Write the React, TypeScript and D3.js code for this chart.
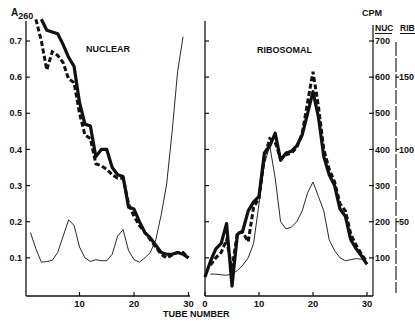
import * as d3 from "d3";

// Sucrose gradient profiles — nuclear vs ribosomal fractions.
const W = 415;
const H = 321;

// left panel (A260 scale)
const NUC_SOLID_START = 3;
const NUC_SOLID = [
  0.76, 0.73, 0.725, 0.72, 0.69, 0.655, 0.63, 0.53, 0.47, 0.465, 0.38, 0.4, 0.4,
  0.35, 0.33, 0.325, 0.24, 0.235, 0.2, 0.17, 0.155, 0.135, 0.115, 0.11, 0.11,
  0.115, 0.11, 0.1,
];
const NUC_DASH_START = 2;
const NUC_DASH = [
  0.76, 0.7, 0.62, 0.67, 0.66, 0.64, 0.595, 0.585, 0.5, 0.44, 0.43, 0.36, 0.355,
  0.345, 0.33, 0.32, 0.32, 0.25, 0.215, 0.19, 0.17, 0.15, 0.13, 0.11, 0.1, 0.108,
  0.115, 0.115, 0.1,
];
const NUC_THIN_START = 1;
const NUC_THIN = [
  0.17, 0.125, 0.088, 0.09, 0.093, 0.115, 0.16, 0.205, 0.19, 0.13, 0.1, 0.09,
  0.095, 0.092, 0.092, 0.11, 0.16, 0.178, 0.12, 0.095, 0.088, 0.1, 0.115, 0.15,
  0.22, 0.305, 0.45, 0.615, 0.712,
];

// right panel (NUC cpm scale)
const RIB_SOLID_START = 0;
const RIB_SOLID = [
  47, 90, 125, 140, 195, 22, 165, 175, 230, 255, 270, 390, 410, 445, 370, 390,
  395, 410, 440, 500, 560, 490, 380, 330, 300, 235, 215, 150, 125, 105, 82,
];
const RIB_DASH_START = 1;
const RIB_DASH = [
  80, 100, 115, 150, 70, 170, 170, 145, 240, 265, 380, 430, 420, 375, 385, 390,
  405, 445, 530, 615, 520, 400, 345, 310, 250, 230, 165, 135, 110, 88,
];
const RIB_THIN_START = 1;
const RIB_THIN = [
  55, 55, 53, 52, 55, 65, 80, 100, 140, 250, 360, 410, 320, 200, 180, 185, 200,
  230, 280, 310, 270, 230, 150, 120, 100, 92, 95, 98, 96, 88,
];

const A_TICKS = [0.1, 0.2, 0.3, 0.4, 0.5, 0.6, 0.7];
const NUC_TICKS = [100, 200, 300, 400, 500, 600, 700];
const RIB_TICKS = [50, 100, 150];
const X_TICKS_LEFT = [10, 20, 30];
const X_TICKS_RIGHT = [0, 10, 20, 30];

const FONT = "'Liberation Sans', Arial, sans-serif";
const INK = "#111";

const xL = d3.scaleLinear().domain([0, 30]).range([25, 188.5]);
const xR = d3.scaleLinear().domain([0, 30]).range([205, 367]);
const yA = d3.scaleLinear().domain([0, 0.7]).range([294, 41]);
const yN = d3.scaleLinear().domain([0, 700]).range([294, 41]);
const yR = d3.scaleLinear().domain([0, 175]).range([294, 41]);

const Y_TOP = yA(0.755);
const BASE = 296;

function path(vals: number[], start: number, x: d3.ScaleLinear<number, number>, y: d3.ScaleLinear<number, number>) {
  const line = d3
    .line<number>()
    .x((_, i) => x(start + i))
    .y((d) => y(d));
  return line(vals) || "";
}

export default function App() {
  const txt = { fontFamily: FONT, fontWeight: 700, fill: INK } as const;
  return (
    <svg
      width={W}
      height={H}
      style={{ position: "absolute", left: 0, top: 0, background: "#fff" }}
    >
      {/* left panel axes */}
      <line x1={26} x2={26} y1={Y_TOP} y2={BASE} stroke={INK} strokeWidth={1.3} />
      <line x1={26} x2={190} y1={BASE} y2={BASE} stroke={INK} strokeWidth={1.3} />
      {A_TICKS.map((t) => (
        <g key={t}>
          <line x1={26} x2={30} y1={yA(t)} y2={yA(t)} stroke={INK} strokeWidth={1.2} />
          <text x={22} y={yA(t) + 3.2} textAnchor="end" fontSize={9} {...txt}>
            {t.toFixed(1)}
          </text>
        </g>
      ))}
      {X_TICKS_LEFT.map((t) => (
        <g key={t}>
          <line x1={xL(t)} x2={xL(t)} y1={BASE} y2={BASE - 4} stroke={INK} strokeWidth={1.2} />
          <text x={xL(t)} y={BASE + 11} textAnchor="middle" fontSize={9.5} {...txt}>
            {t}
          </text>
        </g>
      ))}

      {/* right panel axes */}
      <line x1={205} x2={205} y1={Y_TOP} y2={BASE} stroke={INK} strokeWidth={1.3} />
      <line x1={205} x2={373} y1={BASE} y2={BASE} stroke={INK} strokeWidth={1.3} />
      {A_TICKS.map((t) => (
        <line key={t} x1={205} x2={209} y1={yA(t)} y2={yA(t)} stroke={INK} strokeWidth={1.2} />
      ))}
      {X_TICKS_RIGHT.map((t) => (
        <g key={t}>
          <line x1={xR(t)} x2={xR(t)} y1={BASE} y2={BASE - 4} stroke={INK} strokeWidth={1.2} />
          <text x={xR(t)} y={BASE + 11} textAnchor="middle" fontSize={9.5} {...txt}>
            {t}
          </text>
        </g>
      ))}

      {/* CPM axes */}
      <line x1={373} x2={373} y1={25} y2={BASE} stroke={INK} strokeWidth={1.2} />
      {NUC_TICKS.map((t) => (
        <g key={t}>
          <line x1={369} x2={374} y1={yN(t)} y2={yN(t)} stroke={INK} strokeWidth={1.2} />
          <text x={375} y={yN(t) + 3.2} fontSize={9} {...txt}>
            {t}
          </text>
        </g>
      ))}
      <line
        x1={396}
        x2={396}
        y1={42}
        y2={293}
        stroke={INK}
        strokeWidth={1.1}
        strokeDasharray="14,2"
      />
      {RIB_TICKS.map((t) => (
        <g key={t}>
          <line x1={396} x2={399} y1={yR(t)} y2={yR(t)} stroke={INK} strokeWidth={1.2} />
          <text x={399} y={yR(t) + 3.2} fontSize={9} {...txt}>
            {t}
          </text>
        </g>
      ))}

      {/* series: left */}
      <path d={path(NUC_THIN, NUC_THIN_START, xL, yA)} fill="none" stroke={INK} strokeWidth={0.9} />
      <path
        d={path(NUC_DASH, NUC_DASH_START, xL, yA)}
        fill="none"
        stroke={INK}
        strokeWidth={3}
        strokeDasharray="5,2.5"
      />
      <path
        d={path(NUC_SOLID, NUC_SOLID_START, xL, yA)}
        fill="none"
        stroke={INK}
        strokeWidth={3.2}
        strokeLinejoin="round"
      />

      {/* series: right */}
      <path d={path(RIB_THIN, RIB_THIN_START, xR, yN)} fill="none" stroke={INK} strokeWidth={0.9} />
      <path
        d={path(RIB_SOLID, RIB_SOLID_START, xR, yN)}
        fill="none"
        stroke={INK}
        strokeWidth={3.2}
        strokeLinejoin="round"
      />
      <path
        d={path(RIB_DASH, RIB_DASH_START, xR, yN)}
        fill="none"
        stroke={INK}
        strokeWidth={3}
        strokeDasharray="5,2.5"
      />

      {/* labels */}
      <text x={11} y={16} fontSize={10} {...txt}>
        A
        <tspan fontSize={9} dy={3}>
          260
        </tspan>
      </text>
      <text x={86} y={52} fontSize={9} {...txt}>
        NUCLEAR
      </text>
      <text x={257} y={53} fontSize={9} {...txt}>
        RIBOSOMAL
      </text>
      <text x={362} y={16} fontSize={9} {...txt}>
        CPM
      </text>
      <text x={375} y={31} fontSize={8.5} {...txt}>
        NUC
      </text>
      <line x1={375} x2={392} y1={33.5} y2={33.5} stroke={INK} strokeWidth={1} />
      <text x={400} y={31} fontSize={8.5} {...txt}>
        RIB
      </text>
      <line x1={400} x2={415} y1={33.5} y2={33.5} stroke={INK} strokeWidth={1} />
      <text x={163} y={317} fontSize={9} {...txt}>
        TUBE NUMBER
      </text>
    </svg>
  );
}
